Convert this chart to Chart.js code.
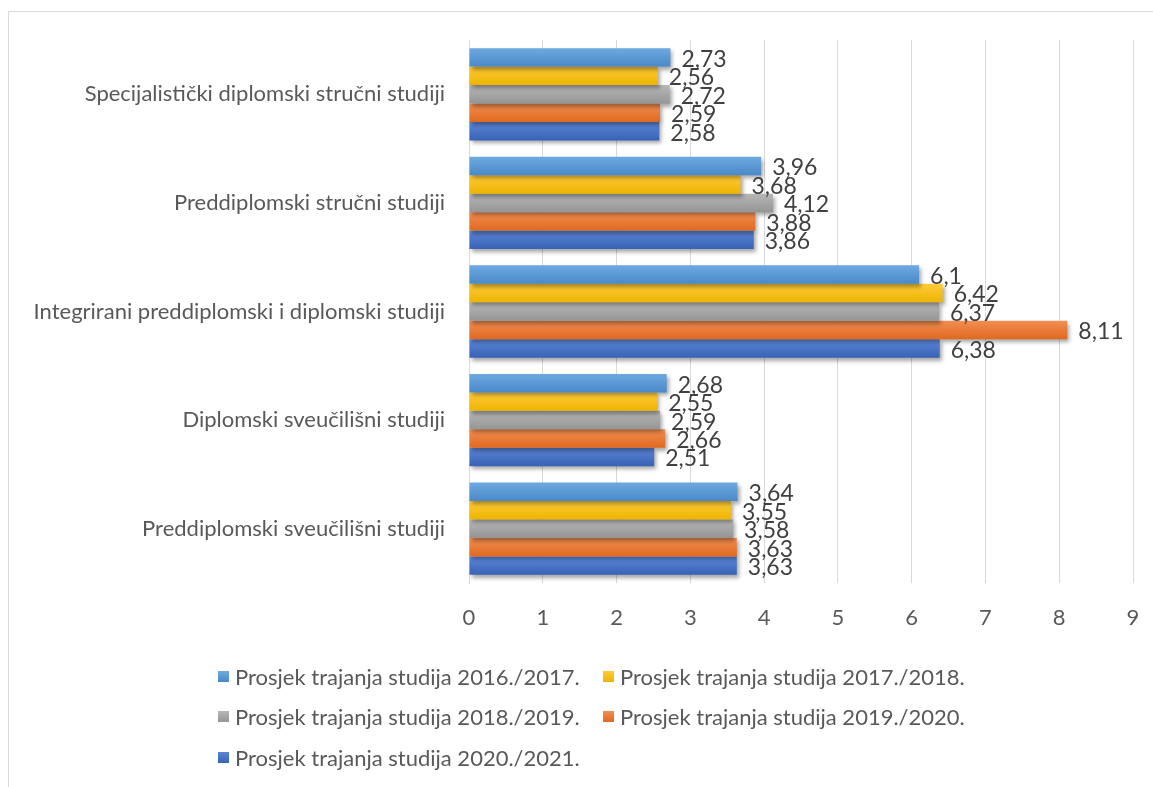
<!DOCTYPE html>
<html>
<head>
<meta charset="utf-8">
<script src="https://cdn.jsdelivr.net/npm/chart.js@4.4.0/dist/chart.umd.min.js"></script>
<style>
  html, body { margin: 0; padding: 0; background: #fff; }
  #wrap { position: relative; width: 1153px; height: 787px; }
  #legend { position: absolute; left: 0; top: 0; font-family: Lato, sans-serif; font-size: 22px; color: #595959; }
  .item { position: absolute; white-space: nowrap; display: flex; align-items: center; height: 26px; }
  .box { width: 11px; height: 11px; margin-right: 6px; }
</style>
</head>
<body>
<div id="wrap">
  <canvas id="chart" width="1153" height="787"></canvas>
  <div id="legend"></div>
</div>
<script>
const categories = [
  'Specijalistički diplomski stručni studiji',
  'Preddiplomski stručni studiji',
  'Integrirani preddiplomski i diplomski studiji',
  'Diplomski sveučilišni studiji',
  'Preddiplomski sveučilišni studiji'
];
const seriesNames = [
  'Prosjek trajanja studija 2016./2017.',
  'Prosjek trajanja studija 2017./2018.',
  'Prosjek trajanja studija 2018./2019.',
  'Prosjek trajanja studija 2019./2020.',
  'Prosjek trajanja studija 2020./2021.'
];
const y2016 = [2.73, 3.96, 6.1, 2.68, 3.64];
const y2017 = [2.56, 3.68, 6.42, 2.55, 3.55];
const y2018 = [2.72, 4.12, 6.37, 2.59, 3.58];
const y2019 = [2.59, 3.88, 8.11, 2.66, 3.63];
const y2020 = [2.58, 3.86, 6.38, 2.51, 3.63];
const xMax = 9;

// colours: base, lighter top, darker bottom
const colors = ['#5B9BD5', '#FFC000', '#A5A5A5', '#ED7D31', '#4472C4'];
const lights = ['#6EAAE0', '#FFCB3A', '#B7B7B7', '#F28E52', '#5C86D6'];
const darks  = ['#4A89C9', '#EDB400', '#959595', '#E0691F', '#3862B6'];

const FONT = 'Lato, sans-serif';
const values = [y2016, y2017, y2018, y2019, y2020];

// frame around the chart like in office
const framePlugin = {
  id: 'frame',
  beforeDraw(chart) {
    const c = chart.ctx;
    c.save();
    c.strokeStyle = '#d9d9d9';
    c.lineWidth = 1;
    c.beginPath();
    c.moveTo(8.5, 787);
    c.lineTo(8.5, 11.5);
    c.lineTo(1153, 11.5);
    c.stroke();
    c.restore();
  }
};

// gradient fill + shadow, then value labels
const barStyle = {
  id: 'barStyle',
  beforeDatasetsDraw(chart) {
    const c = chart.ctx;
    chart.data.datasets.forEach((ds, i) => {
      chart.getDatasetMeta(i).data.forEach(el => {
        const g = c.createLinearGradient(0, el.y - el.height / 2, 0, el.y + el.height / 2);
        g.addColorStop(0, lights[i]);
        g.addColorStop(1, darks[i]);
        el.options = Object.assign({}, el.options, { backgroundColor: g });
      });
    });
    c.save();
    c.shadowColor = 'rgba(0,0,0,0.35)';
    c.shadowBlur = 4;
    c.shadowOffsetX = 2;
    c.shadowOffsetY = 3;
  },
  afterDatasetsDraw(chart) {
    const c = chart.ctx;
    c.restore();
    c.save();
    c.font = '23px ' + FONT;
    c.fillStyle = '#404040';
    c.textBaseline = 'middle';
    c.textAlign = 'left';
    chart.data.datasets.forEach((ds, i) => {
      chart.getDatasetMeta(i).data.forEach((el, j) => {
        const txt = String(ds.data[j]).replace('.', ',');
        c.fillText(txt, el.x + 11, el.y + 2);
      });
    });
    c.restore();
  }
};

new Chart(document.getElementById('chart'), {
  type: 'bar',
  data: {
    labels: categories,
    datasets: values.map((v, i) => ({
      label: seriesNames[i],
      data: v,
      backgroundColor: colors[i],
      borderWidth: 0,
      barPercentage: 1,
      categoryPercentage: 0.85
    }))
  },
  options: {
    indexAxis: 'y',
    responsive: false,
    animation: false,
    events: [],
    devicePixelRatio: 1,
    layout: { padding: { top: 40, right: 20, bottom: 144, left: 0 } },
    plugins: { legend: { display: false }, tooltip: { enabled: false } },
    scales: {
      x: {
        min: 0, max: xMax,
        ticks: { stepSize: 1, color: '#595959', font: { family: FONT, size: 22 }, padding: 22 },
        grid: { color: '#d9d9d9', drawTicks: false },
        border: { display: false },
        afterFit(s) { s.height = 60; s.paddingLeft = 0; s.paddingRight = 0; }
      },
      y: {
        ticks: { color: '#595959', font: { family: FONT, size: 22 }, padding: 16 },
        grid: { display: false },
        border: { display: true, color: '#d9d9d9' },
        afterFit(s) { s.width = 469; s.paddingTop = 0; s.paddingBottom = 0; }
      }
    }
  },
  plugins: [framePlugin, barStyle]
});

// legend in office layout: two columns, rows left aligned
const legendLeft = [218, 603];
const legendTop = [676, 716, 757];
const leg = document.getElementById('legend');
seriesNames.forEach((name, i) => {
  const it = document.createElement('div');
  it.className = 'item';
  it.style.left = legendLeft[i % 2] + 'px';
  it.style.top = (legendTop[Math.floor(i / 2)] - 13) + 'px';
  const b = document.createElement('span');
  b.className = 'box';
  b.style.background = 'linear-gradient(' + lights[i] + ',' + darks[i] + ')';
  const t = document.createElement('span');
  t.textContent = name;
  it.appendChild(b);
  it.appendChild(t);
  leg.appendChild(it);
});
</script>
</body>
</html>
